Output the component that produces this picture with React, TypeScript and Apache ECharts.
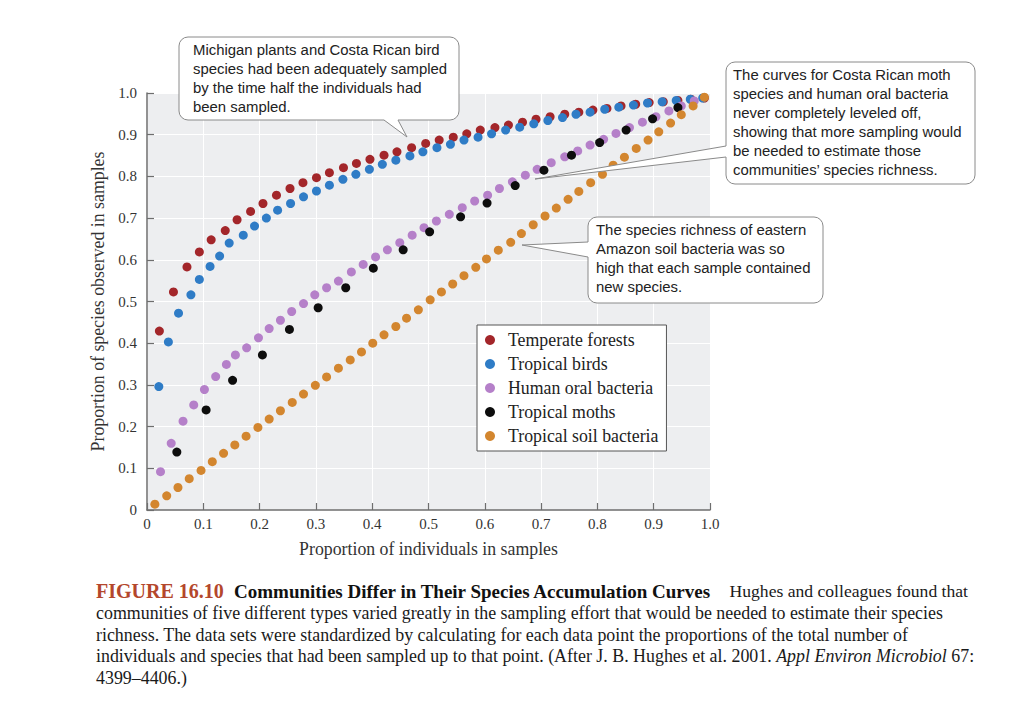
import React, { useEffect, useRef } from "react";
import * as echarts from "echarts";

const seriesNames = [
  "Temperate forests",
  "Tropical birds",
  "Human oral bacteria",
  "Tropical moths",
  "Tropical soil bacteria",
];
const seriesColors = ["#a3262a", "#2f7cc6", "#b580c9", "#0d0d0d", "#d3862f"];

const temperateForests: [number, number][] = [
  [0.022, 0.429], [0.047, 0.523], [0.071, 0.583], [0.093, 0.619], [0.114, 0.648],
  [0.139, 0.670], [0.160, 0.696], [0.184, 0.716], [0.206, 0.735], [0.230, 0.755],
  [0.254, 0.771], [0.277, 0.785], [0.301, 0.797], [0.324, 0.809], [0.349, 0.821],
  [0.372, 0.831], [0.396, 0.841], [0.421, 0.851], [0.444, 0.859], [0.470, 0.869],
  [0.495, 0.879], [0.519, 0.887], [0.544, 0.894], [0.568, 0.902], [0.592, 0.911],
  [0.618, 0.917], [0.642, 0.923], [0.667, 0.930], [0.691, 0.937], [0.716, 0.943],
  [0.742, 0.949], [0.767, 0.954], [0.792, 0.959], [0.817, 0.963], [0.842, 0.969],
  [0.868, 0.973], [0.892, 0.977], [0.917, 0.979], [0.943, 0.982], [0.966, 0.985],
  [0.990, 0.988],
];

const tropicalBirds: [number, number][] = [
  [0.021, 0.296], [0.038, 0.403], [0.056, 0.472], [0.078, 0.516], [0.093, 0.553],
  [0.112, 0.584], [0.129, 0.609], [0.146, 0.640], [0.171, 0.659], [0.191, 0.681],
  [0.212, 0.700], [0.232, 0.719], [0.255, 0.735], [0.278, 0.751], [0.301, 0.765],
  [0.324, 0.779], [0.348, 0.793], [0.371, 0.805], [0.395, 0.817], [0.418, 0.829],
  [0.442, 0.839], [0.467, 0.849], [0.490, 0.859], [0.515, 0.869], [0.539, 0.877],
  [0.563, 0.887], [0.588, 0.894], [0.612, 0.902], [0.637, 0.911], [0.662, 0.918],
  [0.687, 0.926], [0.712, 0.934], [0.738, 0.941], [0.762, 0.949], [0.787, 0.954],
  [0.813, 0.961], [0.838, 0.966], [0.864, 0.971], [0.889, 0.976], [0.915, 0.979],
  [0.940, 0.982], [0.965, 0.985], [0.987, 0.988],
];

const humanOralBacteria: [number, number][] = [
  [0.024, 0.092], [0.043, 0.160], [0.064, 0.213], [0.083, 0.252], [0.102, 0.289],
  [0.122, 0.320], [0.141, 0.349], [0.157, 0.372], [0.177, 0.389], [0.198, 0.413],
  [0.217, 0.435], [0.237, 0.455], [0.257, 0.476], [0.278, 0.495], [0.298, 0.516],
  [0.319, 0.533], [0.340, 0.549], [0.363, 0.571], [0.384, 0.589], [0.406, 0.607],
  [0.427, 0.624], [0.449, 0.641], [0.471, 0.659], [0.492, 0.677], [0.514, 0.693],
  [0.537, 0.709], [0.560, 0.725], [0.582, 0.741], [0.605, 0.755], [0.626, 0.771],
  [0.649, 0.787], [0.672, 0.803], [0.693, 0.817], [0.718, 0.833], [0.742, 0.847],
  [0.765, 0.861], [0.787, 0.875], [0.811, 0.889], [0.833, 0.903], [0.857, 0.917],
  [0.880, 0.930], [0.904, 0.943], [0.927, 0.957], [0.949, 0.969], [0.972, 0.981],
];

const tropicalMoths: [number, number][] = [
  [0.053, 0.139], [0.105, 0.240], [0.152, 0.311], [0.205, 0.372], [0.253, 0.433],
  [0.304, 0.485], [0.353, 0.533], [0.402, 0.580], [0.455, 0.624], [0.502, 0.667],
  [0.557, 0.703], [0.604, 0.736], [0.654, 0.778], [0.705, 0.815], [0.754, 0.851],
  [0.804, 0.881], [0.851, 0.911], [0.898, 0.938], [0.943, 0.965],
];

const tropicalSoilBacteria: [number, number][] = [
  [0.014, 0.014], [0.035, 0.034], [0.055, 0.054], [0.075, 0.075], [0.096, 0.095],
  [0.116, 0.116], [0.136, 0.136], [0.156, 0.156], [0.176, 0.177], [0.197, 0.198],
  [0.217, 0.218], [0.237, 0.238], [0.258, 0.258], [0.278, 0.278], [0.299, 0.299],
  [0.319, 0.319], [0.340, 0.340], [0.361, 0.360], [0.381, 0.379], [0.401, 0.400],
  [0.421, 0.420], [0.442, 0.440], [0.461, 0.460], [0.482, 0.480], [0.503, 0.504],
  [0.523, 0.523], [0.543, 0.542], [0.563, 0.562], [0.584, 0.582], [0.603, 0.602],
  [0.624, 0.623], [0.646, 0.642], [0.665, 0.663], [0.686, 0.684], [0.707, 0.705],
  [0.727, 0.724], [0.748, 0.745], [0.767, 0.764], [0.788, 0.785], [0.809, 0.805],
  [0.828, 0.827], [0.848, 0.846], [0.869, 0.867], [0.890, 0.887], [0.909, 0.907],
  [0.930, 0.928], [0.949, 0.948], [0.970, 0.969], [0.990, 0.990],
];

const allSeries = [
  temperateForests,
  tropicalBirds,
  humanOralBacteria,
  tropicalMoths,
  tropicalSoilBacteria,
];

const xAxisTitle = "Proportion of individuals in samples";
const yAxisTitle = "Proportion of species observed in samples";

const callout1Lines = [
  "Michigan plants and Costa Rican bird",
  "species had been adequately sampled",
  "by the time half the individuals had",
  "been sampled.",
];
const callout2Lines = [
  "The curves for Costa Rican moth",
  "species and human oral bacteria",
  "never completely leveled off,",
  "showing that more sampling would",
  "be needed to estimate those",
  "communities\u2019 species richness.",
];
const callout3Lines = [
  "The species richness of eastern",
  "Amazon soil bacteria was so",
  "high that each sample contained",
  "new species.",
];

const captionFigure = "FIGURE 16.10";
const captionTitle = "Communities Differ in Their Species Accumulation Curves";
const captionFirst = "Hughes and colleagues found that";
const captionLines = [
  "communities of five different types varied greatly in the sampling effort that would be needed to estimate their species",
  "richness. The data sets were standardized by calculating for each data point the proportions of the total number of",
  "individuals and species that had been sampled up to that point. (After J. B. Hughes et al. 2001. {i|Appl Environ Microbiol} 67:",
  "4399\u20134406.)",
];

const SERIF = '"Liberation Serif", "Times New Roman", serif';
const SANS = '"Liberation Sans", Arial, sans-serif';
const BORDER = "#8a8a8a";
const CAP = 17.9;

function callout(
  box: { x: number; y: number; w: number; h: number },
  tail: number[][],
  cover: number[][],
  lines: string[],
  textX: number,
  textY: number
) {
  return [
    {
      type: "rect",
      z: 20,
      shape: { x: box.x, y: box.y, width: box.w, height: box.h, r: 9 },
      style: { fill: "#ffffff", stroke: BORDER, lineWidth: 1 },
    },
    {
      type: "polygon",
      z: 21,
      shape: { points: cover },
      style: { fill: "#ffffff", stroke: null },
    },
    {
      type: "polyline",
      z: 22,
      shape: { points: tail },
      style: { fill: null, stroke: BORDER, lineWidth: 1 },
    },
    {
      type: "text",
      z: 23,
      style: {
        text: lines.join("\n"),
        x: textX,
        y: textY,
        font: `14.9px ${SANS}`,
        fill: "#222222",
        lineHeight: 19,
        verticalAlign: "top",
        align: "left",
      },
    },
  ];
}

export default function App() {
  const ref = useRef<HTMLDivElement>(null);

  useEffect(() => {
    if (!ref.current) return;
    const chart = echarts.init(ref.current, null, { renderer: "svg" });

    const axisCommon = {
      type: "value",
      min: 0,
      max: 1,
      interval: 0.1,
      axisLine: { show: true, lineStyle: { color: "#6e6e6e", width: 1.5 } },
      axisTick: { show: true, inside: true, length: 7, lineStyle: { color: "#6e6e6e", width: 1.2 } },
      splitLine: { show: true, lineStyle: { color: "#ffffff", width: 1 } },
      axisLabel: {
        fontFamily: SERIF,
        fontSize: 15,
        color: "#333333",
        formatter: (v: number) => (v === 0 ? "0" : v.toFixed(1)),
      },
      nameLocation: "middle",
      nameTextStyle: { fontFamily: SERIF, fontSize: 17.8, color: "#333333" },
    };

    const graphics: any[] = [
      ...callout(
        { x: 179, y: 37, w: 280, h: 83 },
        [[384, 120], [407, 137], [398, 120]],
        [[384, 118], [384, 120], [407, 137], [398, 120], [398, 118]],
        callout1Lines,
        193,
        40
      ),
      ...callout(
        { x: 726, y: 62, w: 249, h: 122 },
        [[726, 146], [535, 179], [726, 157]],
        [[728, 146], [726, 146], [535, 179], [726, 157], [728, 157]],
        callout2Lines,
        733,
        65
      ),
      ...callout(
        { x: 588, y: 217, w: 235, h: 86 },
        [[588, 242], [522, 245], [588, 257]],
        [[590, 242], [588, 242], [522, 245], [588, 257], [590, 257]],
        callout3Lines,
        596,
        220
      ),
      {
        type: "text",
        z: 30,
        style: {
          text: captionFigure,
          x: 96,
          y: 591,
          font: `bold 20px ${SERIF}`,
          fill: "#b4472c",
          verticalAlign: "middle",
          align: "left",
        },
      },
      {
        type: "text",
        z: 30,
        style: {
          text: captionTitle,
          x: 234,
          y: 591,
          font: `bold 19px ${SERIF}`,
          fill: "#111111",
          verticalAlign: "middle",
          align: "left",
        },
      },
      {
        type: "text",
        z: 30,
        style: {
          text: captionFirst,
          x: 968,
          y: 591,
          font: `17.6px ${SERIF}`,
          fill: "#1a1a1a",
          verticalAlign: "middle",
          align: "right",
        },
      },
      ...captionLines.map((t, i) => ({
        type: "text",
        z: 30,
        style: {
          text: t,
          x: 96,
          y: 613 + i * 21.7,
          font: `${CAP}px ${SERIF}`,
          fill: "#1a1a1a",
          verticalAlign: "middle",
          align: "left",
          rich: {
            i: { fontFamily: SERIF, fontSize: CAP, fontStyle: "italic", fill: "#1a1a1a" },
          },
        },
      })),
    ];

    chart.setOption({
      animation: false,
      backgroundColor: "#ffffff",
      grid: {
        left: 147,
        top: 93,
        width: 563,
        height: 417,
        show: true,
        backgroundColor: "#edeef0",
        borderWidth: 0,
      },
      xAxis: {
        ...axisCommon,
        name: xAxisTitle,
        nameGap: 30,
        axisLabel: { ...axisCommon.axisLabel, margin: 6 },
      },
      yAxis: {
        ...axisCommon,
        name: yAxisTitle,
        nameGap: 39,
        axisLabel: { ...axisCommon.axisLabel, margin: 10 },
      },
      legend: {
        orient: "vertical",
        left: 477,
        top: 325,
        data: seriesNames,
        icon: "circle",
        itemWidth: 10,
        itemHeight: 10,
        itemGap: 6,
        padding: [6, 4, 6, 8],
        backgroundColor: "#ffffff",
        borderColor: "#555555",
        borderWidth: 1,
        borderRadius: 0,
        z: 10,
        textStyle: {
          fontFamily: SERIF,
          fontSize: 17.8,
          color: "#222222",
          lineHeight: 18,
          padding: [0, 4, 0, 8],
        },
      },
      graphic: graphics,
      series: allSeries.map((data, i) => ({
        type: "scatter",
        name: seriesNames[i],
        data,
        symbol: "circle",
        symbolSize: 9,
        itemStyle: { color: seriesColors[i], opacity: 1 },
        z: 2 + i,
      })),
    });

    return () => chart.dispose();
  }, []);

  return (
    <div
      ref={ref}
      style={{ position: "fixed", left: 0, top: 0, width: 1016, height: 708, background: "#fff" }}
    />
  );
}
